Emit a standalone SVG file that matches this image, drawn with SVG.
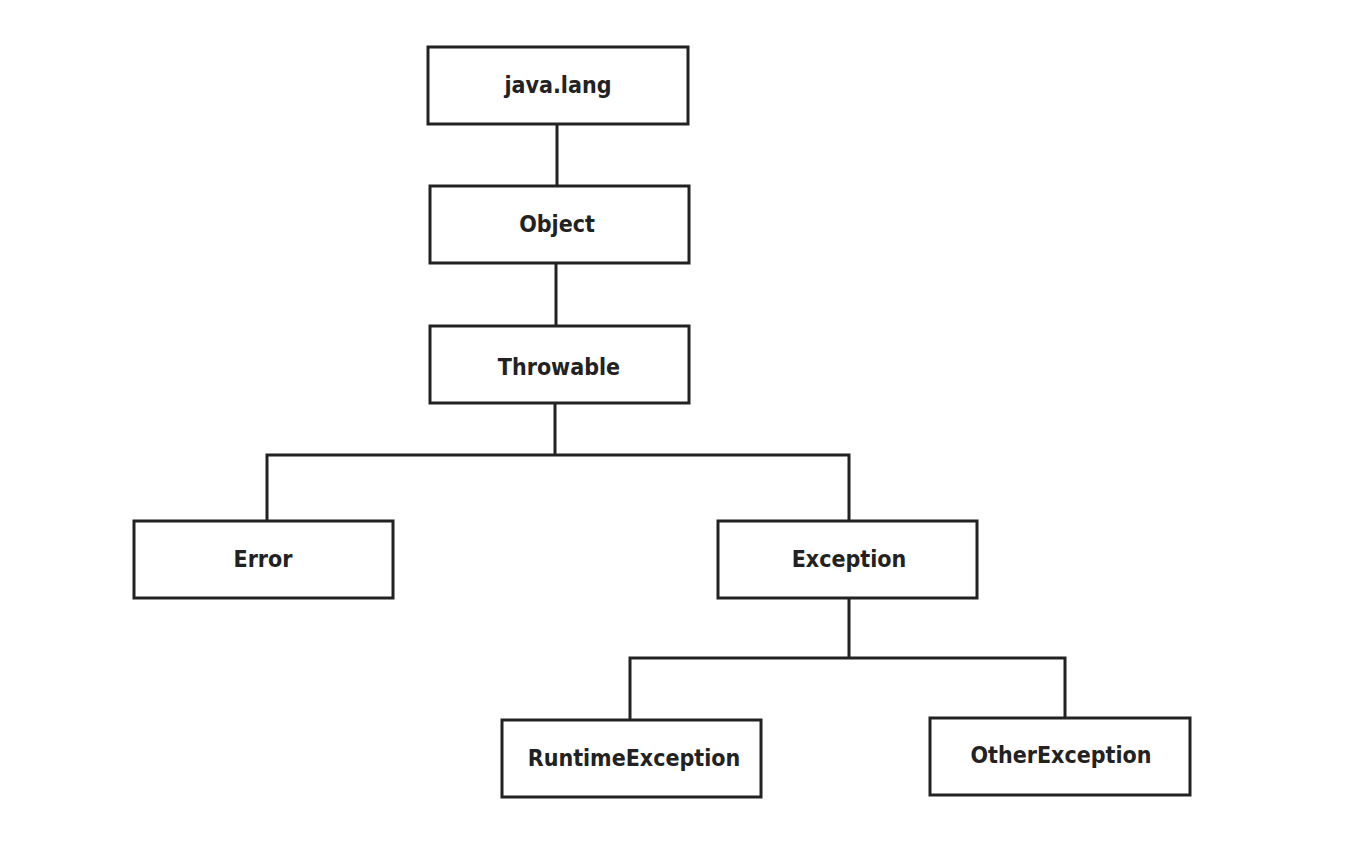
<svg xmlns="http://www.w3.org/2000/svg" width="1362" height="858" viewBox="0 0 1362 858">
<style>
.box{fill:#fff;stroke:#222;stroke-width:3}
.lbl{font-family:"DejaVu Sans Condensed","DejaVu Sans",sans-serif;font-weight:bold;font-size:23px;fill:#222;text-anchor:middle}
.con{fill:none;stroke:#222;stroke-width:3}
</style>
<rect width="1362" height="858" fill="#fff"/>
<g id="connectors">
<path class="con" d="M557 124V186"/>
<path class="con" d="M556 263V326"/>
<path class="con" d="M555 403V455M267 521V455H849V521"/>
<path class="con" d="M849 598V658M630 720V658H1065V718"/>
</g>
<g id="java-lang"><rect class="box" x="428" y="47" width="260" height="77"/><text class="lbl" x="558" y="93">java.lang</text></g>
<g id="object"><rect class="box" x="430" y="186" width="259" height="77"/><text class="lbl" x="557" y="232">Object</text></g>
<g id="throwable"><rect class="box" x="430" y="326" width="259" height="77"/><text class="lbl" x="559" y="375">Throwable</text></g>
<g id="error"><rect class="box" x="134" y="521" width="259" height="77"/><text class="lbl" x="263" y="567">Error</text></g>
<g id="exception"><rect class="box" x="718" y="521" width="259" height="77"/><text class="lbl" x="849" y="567">Exception</text></g>
<g id="runtime-exception"><rect class="box" x="502" y="720" width="259" height="77"/><text class="lbl" x="634" y="766">RuntimeException</text></g>
<g id="other-exception"><rect class="box" x="930" y="718" width="260" height="77"/><text class="lbl" x="1061" y="763">OtherException</text></g>
</svg>
